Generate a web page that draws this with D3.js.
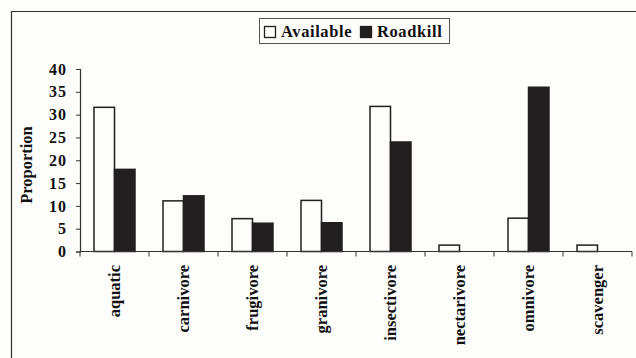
<!DOCTYPE html>
<html><head><meta charset="utf-8">
<script src="https://cdn.jsdelivr.net/npm/d3@7"></script>
<style>body{margin:0;background:#fdfdfb;}svg{display:block;}</style>
</head><body>
<script>
const categories = ["aquatic","carnivore","frugivore","granivore","insectivore","nectarivore","omnivore","scavenger"];
const available = [31.6, 11.1, 7.2, 11.2, 31.8, 1.4, 7.3, 1.4];
const roadkill  = [18.0, 12.2, 6.2, 6.3, 24.0, 0, 36.0, 0];
const seriesNames = ["Available","Roadkill"];
const yTicks = [0,5,10,15,20,25,30,35,40];

const W=636,H=358;
const font = "'Liberation Serif','Times New Roman',serif";
const svg = d3.select("body").append("svg").attr("width",W).attr("height",H);
svg.append("rect").attr("width",W).attr("height",H).attr("fill","#fdfdfb");
// outer frame
svg.append("path").attr("d",`M11.5,${H} V11.5 H${W}`).attr("fill","none").attr("stroke","#333").attr("stroke-width",1.2);

const x0 = d3.scaleBand().domain(categories).range([80,632]).paddingInner(0).paddingOuter(0);
const x1 = d3.scaleBand().domain(seriesNames).range([14, x0.bandwidth()-14]);
const y = d3.scaleLinear().domain([0,40]).range([251.5,69]);

const data = categories.map((c,i)=>({c, vals:[available[i], roadkill[i]]}));
const g = svg.append("g");
data.forEach(d=>{
  d.vals.forEach((v,j)=>{
    if(v<=0) return;
    g.append("rect")
      .attr("x", x0(d.c)+x1(seriesNames[j]))
      .attr("y", y(v))
      .attr("width", x1.bandwidth())
      .attr("height", y(0)-y(v))
      .attr("fill", j===0 ? "#fdfdfb" : "#231f20")
      .attr("stroke", "#231f20").attr("stroke-width",1.5);
  });
});

// y axis
const ya = svg.append("g").attr("transform","translate(80,0)")
  .call(d3.axisLeft(y).tickValues(yTicks).tickSize(4).tickPadding(9));
ya.select(".domain").attr("stroke","#333").attr("stroke-width",1.2);
ya.selectAll("line").attr("stroke","#333");
ya.selectAll("text").attr("font-family",font).attr("font-weight","bold").attr("font-size",16).attr("letter-spacing","1px").attr("fill","#111");

// x axis
svg.append("line").attr("x1",80).attr("x2",632).attr("y1",y(0)).attr("y2",y(0)).attr("stroke","#333").attr("stroke-width",1.2);
const bounds = categories.map(c=>x0(c)).concat([x0.range()[1]]);
svg.selectAll(".xt").data(bounds).enter().append("line")
  .attr("x1",d=>d).attr("x2",d=>d).attr("y1",y(0)).attr("y2",y(0)+5).attr("stroke","#333");
svg.selectAll(".xl").data(categories).enter().append("text")
  .attr("transform",d=>`translate(${x0(d)+x0.bandwidth()/2+5.5},265) rotate(-90)`)
  .attr("text-anchor","end")
  .attr("font-family",font).attr("font-weight","bold").attr("font-size",16.5).attr("fill","#111")
  .text(d=>d);

// y label
svg.append("text").attr("transform","translate(32,165) rotate(-90)")
  .attr("text-anchor","middle").attr("font-family",font).attr("font-weight","bold").attr("font-size",16.5).attr("fill","#111")
  .text("Proportion");

// legend
const lg = svg.append("g");
lg.append("rect").attr("x",259.5).attr("y",18.5).attr("width",190).attr("height",25).attr("fill","#fdfdfb").attr("stroke","#555");
const lx=[264,360];
seriesNames.forEach((s,j)=>{
  lg.append("rect").attr("x",lx[j]+0.5).attr("y",26.5).attr("width",11).attr("height",11)
    .attr("fill", j===0?"#fdfdfb":"#231f20").attr("stroke","#231f20").attr("stroke-width",1.3);
  lg.append("text").attr("x",lx[j]+17).attr("y",37).attr("font-family",font).attr("font-weight","bold").attr("font-size",16.5).attr("letter-spacing","0.6px").attr("fill","#111").text(s);
});
</script>
</body></html>
